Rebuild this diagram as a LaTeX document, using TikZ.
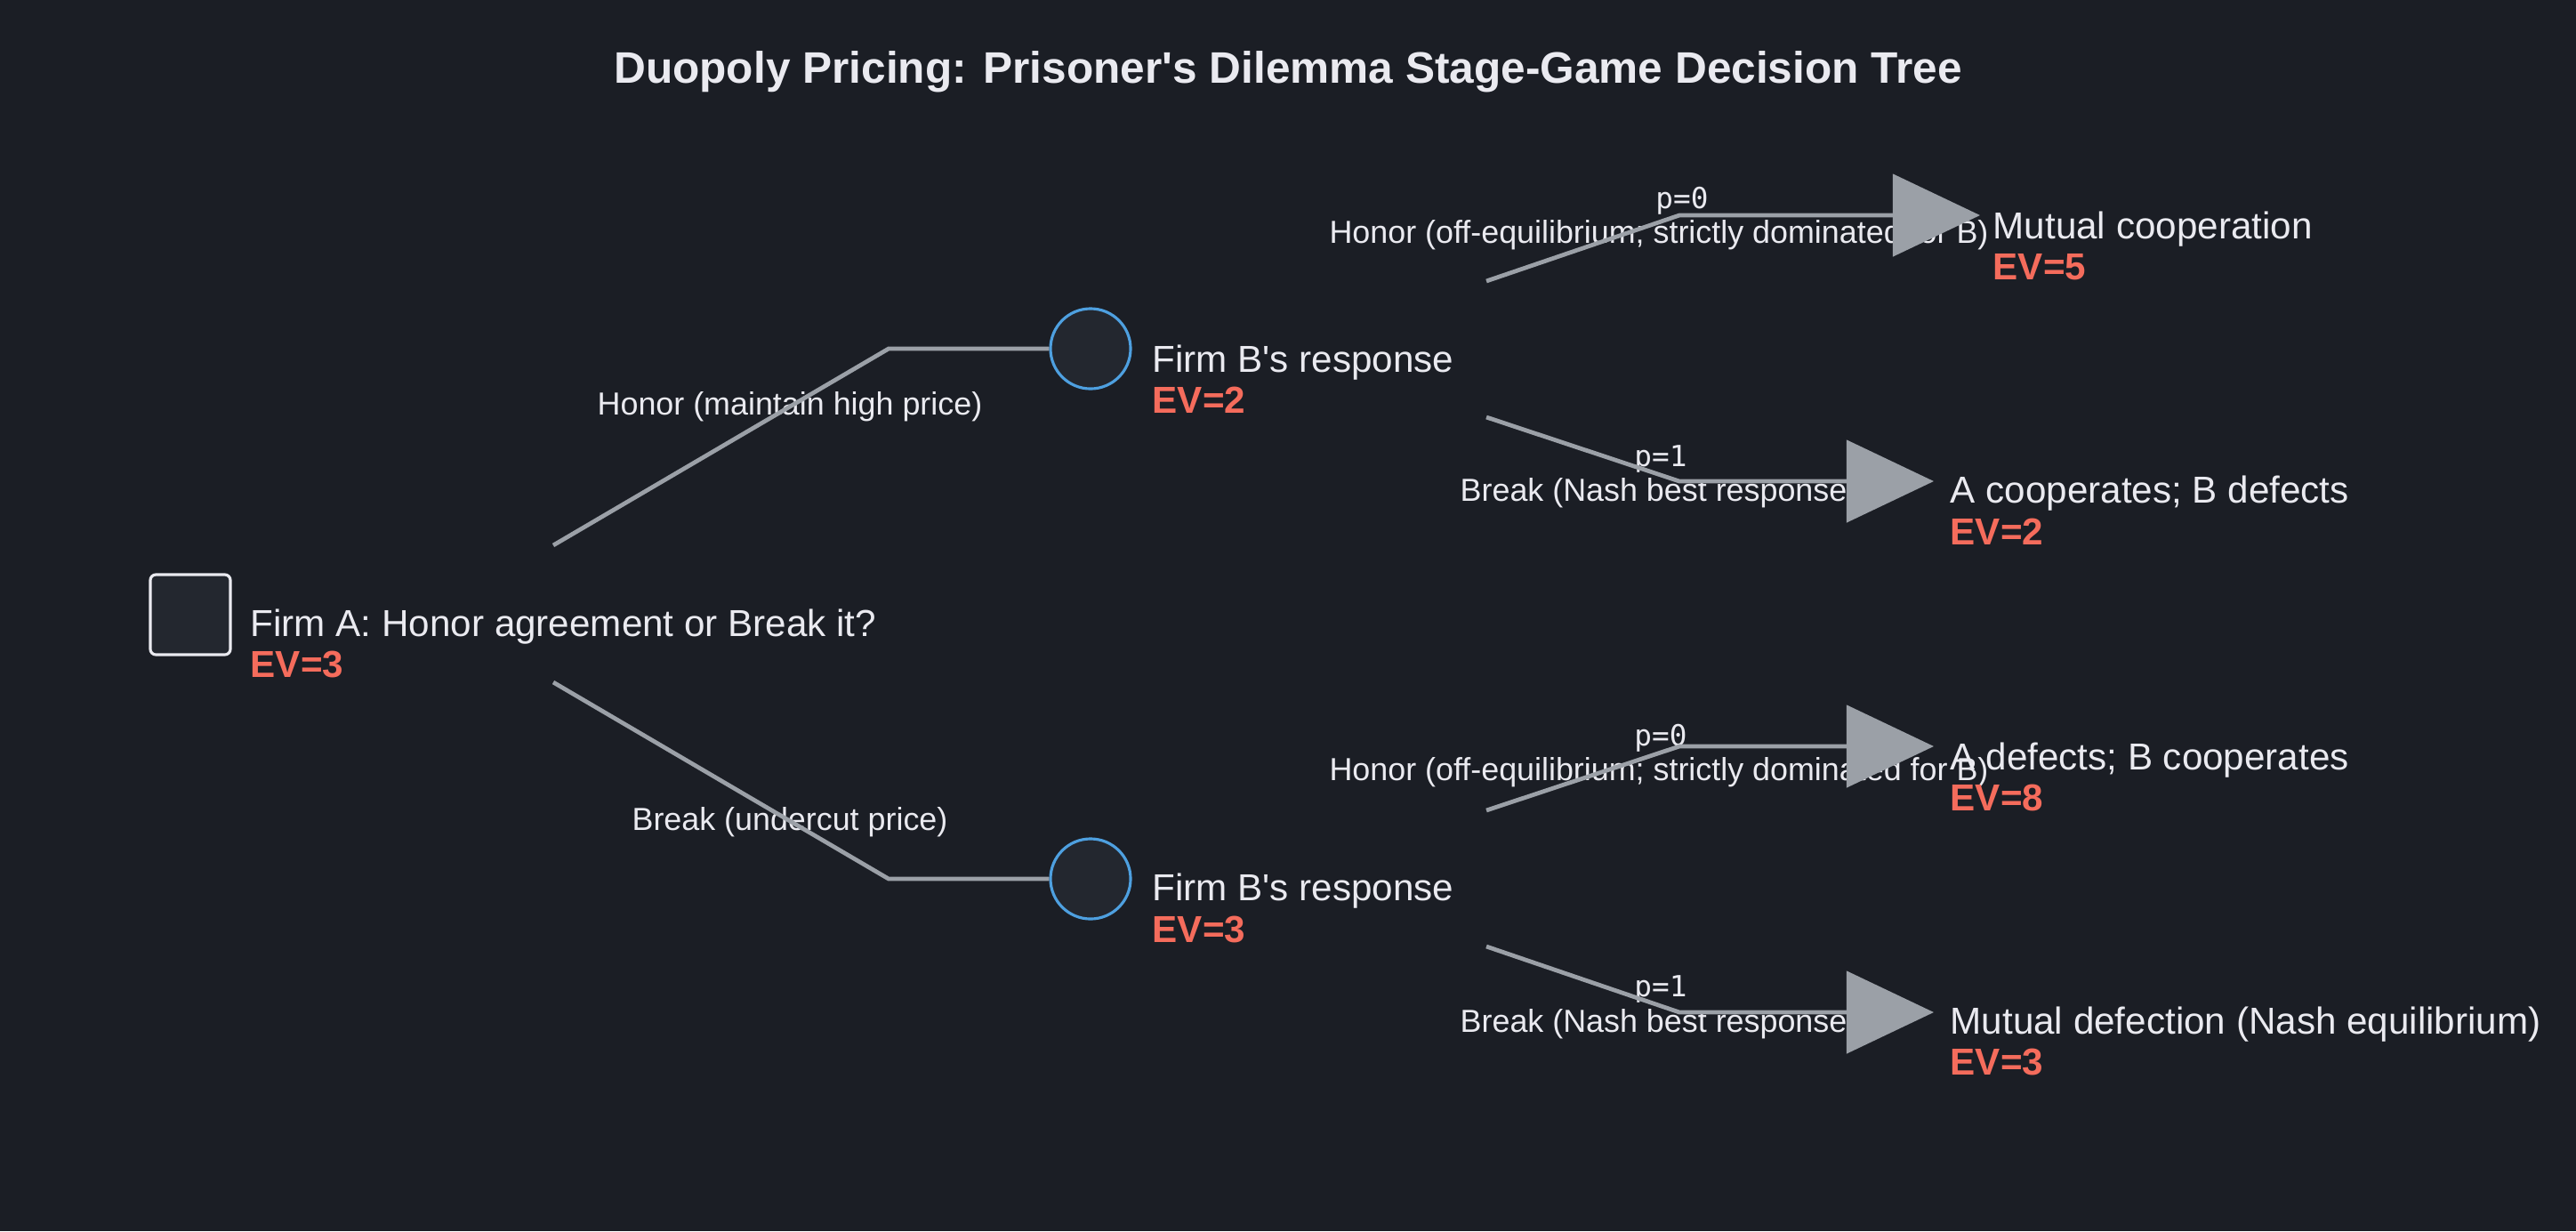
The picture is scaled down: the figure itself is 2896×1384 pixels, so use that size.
\documentclass[tikz,border=0pt]{standalone}
\usepackage{fontspec}
\setmainfont{Liberation Sans}
\newfontfamily\probfont{DejaVu Sans Mono}
\usetikzlibrary{arrows.meta, positioning}
\definecolor{bgdark}{RGB}{27,30,37}
\definecolor{nodefill}{RGB}{35,39,47}
\definecolor{edgegray}{RGB}{155,160,167}
\definecolor{evred}{RGB}{245,108,92}
\definecolor{chanceblue}{RGB}{78,160,224}
\definecolor{txtlight}{RGB}{234,234,240}
\newcommand{\EVof}[1]{EV=#1}
\newcommand{\Honor}{Honor (off-equilibrium; strictly dominated for B)}
\newcommand{\Break}{Break (Nash best response)}
\newcommand{\FirmBresp}{Firm B\textquotesingle s response}

\begin{document}
\begin{tikzpicture}[x=0.01cm, y=-0.01cm,
  decision/.style={draw=txtlight, fill=nodefill, line width=0.9pt, rounded corners=1.8pt, minimum size=0.9cm, inner sep=0},
  chance/.style={circle, draw=chanceblue, fill=nodefill, line width=0.9pt, minimum size=0.9cm, inner sep=0},
  branch/.style={draw=edgegray, line width=1.35pt},
  leaf/.style={branch, -{Triangle[length=0.98cm, width=0.92cm]}},
  heading/.style={font=\fontsize{14.1}{17}\selectfont\bfseries, text=txtlight, anchor=base, inner sep=0},
  lbl/.style={font=\fontsize{12}{14}\selectfont, text=txtlight, anchor=base west, inner sep=0},
  ev/.style={font=\fontsize{12}{14}\selectfont\bfseries, text=evred, anchor=base west, inner sep=0},
  act/.style={font=\fontsize{10.2}{12}\selectfont, text=txtlight, anchor=base, inner sep=0},
  prob/.style={font=\probfont\fontsize{9.3}{11}\selectfont, text=txtlight, anchor=base, inner sep=0}]
  \fill[bgdark] (0,0) rectangle (2896,1384);
  \useasboundingbox (0,0) rectangle (2896,1384);

  \node[heading] (Title) at (1448,93) {Duopoly Pricing: Prisoner\textquotesingle s Dilemma Stage-Game Decision Tree};

  % decision and chance nodes
  \node[decision] (FirmA) at (214,691) {};
  \node[chance]   (RespH) at (1226,392) {};
  \node[chance]   (RespB) at (1226,988) {};

  \node[lbl] (FirmAtxt) at (281,715) {Firm A: Honor agreement or Break it?};
  \node[ev]  (FirmAev)  at (281,761) {\EVof{3}};
  \node[lbl] (RespHtxt) at (1295,418) {\FirmBresp};
  \node[ev]  (RespHev)  at (1295,464) {\EVof{2}};
  \node[lbl] (RespBtxt) at (1295,1012) {\FirmBresp};
  \node[ev]  (RespBev)  at (1295,1059) {\EVof{3}};

  % action labels
  \node[act] (actH)  at (888,466) {Honor (maintain high price)};
  \node[act] (actB)  at (888,933) {Break (undercut price)};
  \node[act] (actHH) at (1865,273) {\Honor};
  \node[act] (actHB) at (1865,563) {\Break};
  \node[act] (actBH) at (1865,877) {\Honor};
  \node[act] (actBB) at (1865,1160) {\Break};
  \node[prob] (pHH) at (1891,234) {p=0};
  \node[prob] (pHB) at (1867,524) {p=1};
  \node[prob] (pBH) at (1867,838) {p=0};
  \node[prob] (pBB) at (1867,1120) {p=1};

  % first stage
  \coordinate (outH) at (622,613);
  \coordinate (outB) at (622,767);
  \coordinate (kneeH) at (999,392);
  \coordinate (kneeB) at (999,988);
  \draw[branch] (outH) -- (kneeH) -- (RespH);
  \draw[branch] (outB) -- (kneeB) -- (RespB);

  % second stage
  \coordinate (outHH) at (1671,316);  \coordinate (kHH) at (1888,242);  \coordinate (tipHH) at (2226,242);
  \coordinate (outHB) at (1671,469);  \coordinate (kHB) at (1888,541);  \coordinate (tipHB) at (2174,541);
  \coordinate (outBH) at (1671,911);  \coordinate (kBH) at (1888,839);  \coordinate (tipBH) at (2174,839);
  \coordinate (outBB) at (1671,1064); \coordinate (kBB) at (1888,1138); \coordinate (tipBB) at (2174,1138);
  \draw[leaf] (outHH) -- (kHH) -- (tipHH);
  \draw[leaf] (outHB) -- (kHB) -- (tipHB);
  \draw[leaf] (outBH) -- (kBH) -- (tipBH);
  \draw[leaf] (outBB) -- (kBB) -- (tipBB);

  % outcomes
  \node[lbl] (endHH)   at (2240,268) {Mutual cooperation};
  \node[ev]  (endHHev) at (2240,314) {\EVof{5}};
  \node[lbl] (endHB)   at (2192,565) {A cooperates; B defects};
  \node[ev]  (endHBev) at (2192,612) {\EVof{2}};
  \node[lbl] (endBH)   at (2192,865) {A defects; B cooperates};
  \node[ev]  (endBHev) at (2192,911) {\EVof{8}};
  \node[lbl] (endBB)   at (2192,1162) {Mutual defection (Nash equilibrium)};
  \node[ev]  (endBBev) at (2192,1208) {\EVof{3}};
\end{tikzpicture}
\end{document}
